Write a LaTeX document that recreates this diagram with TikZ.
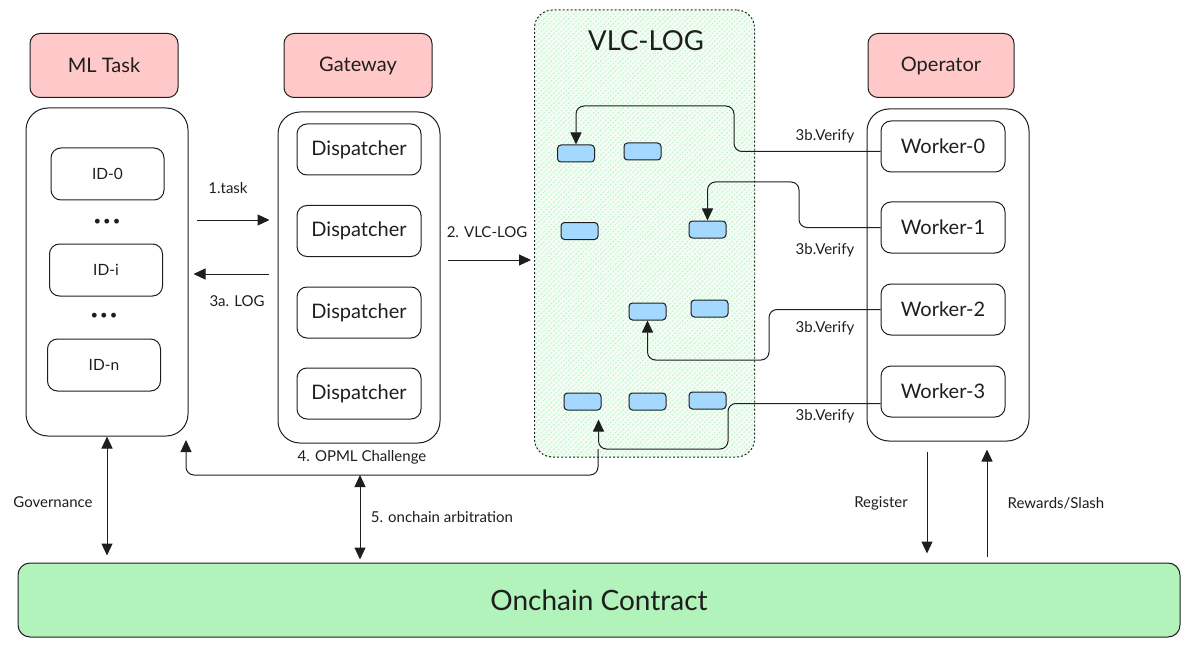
\documentclass[tikz,border=0pt]{standalone}
\usepackage{fontspec}
\setmainfont{Lato}
\usetikzlibrary{arrows.meta,patterns.meta}
\definecolor{hdrpink}{HTML}{FFC9C9}
\definecolor{logblue}{HTML}{A5D8FF}
\definecolor{chaingreen}{HTML}{B2F2BB}
\definecolor{ink}{HTML}{1E1E1E}
\newcommand{\fs}[1]{\fontsize{#1}{#1}\selectfont}
\begin{document}
\begin{tikzpicture}[x=1pt,y=-1pt,line width=1pt,color=ink,
  >={Triangle[length=12pt,width=11pt]},
  hdr/.style={draw,fill=hdrpink,rounded corners=10pt,minimum width=148pt,minimum height=64pt,inner sep=0pt,font=\fs{20}},
  body/.style={draw,rounded corners=22pt,minimum width=162pt,inner sep=0pt},
  item/.style={draw,rounded corners=10pt,minimum width=124pt,minimum height=51pt,inner sep=0pt,font=\fs{20}},
  idbox/.style={item,minimum width=113pt,minimum height=52pt,font=\fs{15.5}},
  blk/.style={draw,fill=logblue,rounded corners=3.5pt,minimum width=37pt,minimum height=17pt,inner sep=0pt},
  lbl/.style={font=\fs{15}},
  arr/.style={->,rounded corners=8pt}]
  \useasboundingbox (0,0) rectangle (1188,647);
  % log area
  \node[draw,dash pattern=on 2pt off 2pt,rounded corners=18pt,minimum width=220pt,minimum height=447pt,
    fill=chaingreen!15,postaction={pattern={Lines[angle=45,distance=3.5pt,line width=0.6pt]},pattern color=chaingreen}]
    (vlc) at (644.5,233.5) {};
  \node[font=\fs{27.5}] (vlctitle) at (646,41) {VLC-LOG};
  \node[blk] (r1a) at (576,153.5) {};
  \node[blk] (r1b) at (642.5,151.5) {};
  \node[blk] (r2a) at (579.5,231) {};
  \node[blk] (r2b) at (707.5,229.5) {};
  \node[blk] (r3a) at (647.5,311.5) {};
  \node[blk] (r3b) at (709.5,308.5) {};
  \node[blk] (r4a) at (582.5,401.5) {};
  \node[blk] (r4b) at (647.5,401.5) {};
  \node[blk] (r4c) at (707.5,400.5) {};
  % headers
  \node[hdr] (mlhdr) at (104,65.5) {ML Task};
  \node[hdr] (gwhdr) at (358,65.5) {Gateway};
  \node[hdr,minimum width=146pt] (ophdr) at (941,65.5) {Operator};
  % bodies
  \node[body,minimum height=328pt] (mlbody) at (107,272) {};
  \node[body,minimum height=331pt] (gwbody) at (359,277.5) {};
  \node[body,minimum height=332pt] (opbody) at (948,275) {};
  \node[idbox] (id0) at (107.5,174) {ID-0};
  \node[idbox] (idi) at (106,270) {ID-i};
  \node[idbox] (idn) at (104,365) {ID-n};
  \node[font=\fs{13}] (dots1) at (107,222) {\textbullet\,\textbullet\,\textbullet};
  \node[font=\fs{13}] (dots2) at (104,316) {\textbullet\,\textbullet\,\textbullet};
  \foreach \y [count=\i from 0] in {149.5,231,312.5,393.5}
    \node[item] (disp\i) at (359,\y) {Dispatcher};
  \foreach \y [count=\i from 0] in {146.5,227.5,309.5,391.5}
    \node[item] (w\i) at (943,\y) {Worker-\i};
  \node[draw,fill=chaingreen,rounded corners=12pt,minimum width=1162pt,minimum height=74pt,font=\fs{28}]
    (onchain) at (599,600) {Onchain Contract};
  % task flow
  \draw[->,shorten <=8pt,shorten >=8pt] (mlbody.east |- 0,220) -- (gwbody.west |- 0,220);
  \node[lbl] (lbltask) at (228,188) {1.task};
  \draw[->,shorten <=9pt,shorten >=5pt] (gwbody.west |- 0,274) -- (mlbody.east |- 0,274);
  \node[lbl] (lbllog) at (237,301) {3a. LOG};
  \draw[->,shorten <=7pt,shorten >=3pt] (gwbody.east |- 0,260) -- (vlc.west |- 0,260);
  \node[lbl] (lblvlc) at (487,232) {2. VLC-LOG};
  % verify
  \draw[arr] ([yshift=-5pt]w0.west) -| (734,106) -| (r1a.north);
  \draw[arr] (w1.west) -| (799,182) -| (r2b.north);
  \draw[arr] (w2.west) -| (769,360) -| (r3a.south);
  \draw[arr,shorten >=9pt] ([yshift=-12pt]w3.west) -| (728,449) -| ([xshift=-3pt]r4a.south east);
  \node[lbl] (lblv0) at (825,136) {3b.Verify};
  \node[lbl] (lblv1) at (825,250) {3b.Verify};
  \node[lbl] (lblv2) at (825,328) {3b.Verify};
  \node[lbl] (lblv3) at (825,416) {3b.Verify};
  % challenge
  \coordinate (chal) at (598,449);
  \coordinate (mlin) at (186,440);
  \draw[arr] (chal) |- (mlin |- 0,475) -- (mlin);
  \node[lbl] (lblopml) at (362,457) {4. OPML Challenge};
  % onchain
  \draw[<->,shorten >=7pt] (mlbody.south) -- (mlbody.south |- onchain.north);
  \node[lbl] (lblgov) at (53,502) {Governance};
  \draw[<->,shorten >=3pt] (360,475) -- (onchain.north -| 360,0);
  \node[lbl,anchor=west] (lblarb) at (367,517) {5. onchain arbitration};
  \draw[->,shorten <=10pt,shorten >=9pt] (opbody.south -| 927,0) -- (onchain.north -| 927,0);
  \node[lbl] (lblreg) at (881,503) {Register};
  \draw[->,shorten <=6pt,shorten >=8pt] (onchain.north -| 987,0) -- (opbody.south -| 987,0);
  \node[lbl] (lblrew) at (1056,503) {Rewards/Slash};
\end{tikzpicture}
\end{document}
